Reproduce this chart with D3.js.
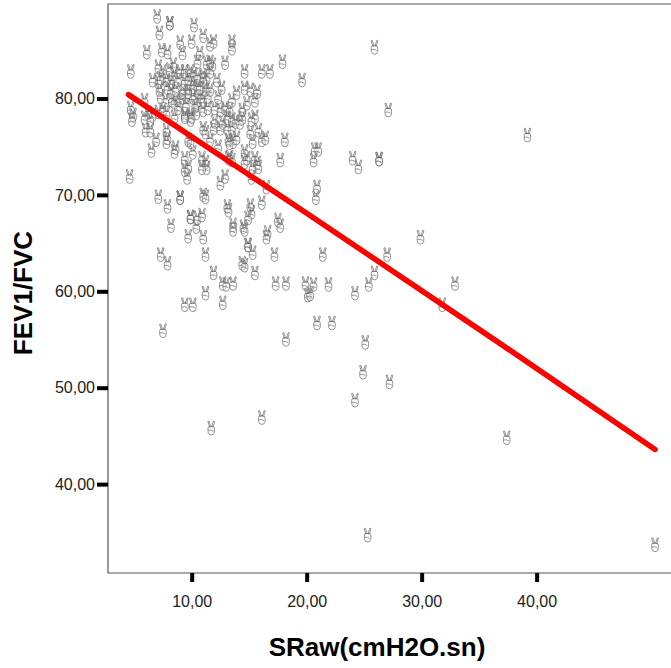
<!DOCTYPE html>
<html>
<head>
<meta charset="utf-8">
<script src="https://cdnjs.cloudflare.com/ajax/libs/d3/7.8.5/d3.min.js"></script>
<style>
  body { margin: 0; background: #fff; }
  text { font-family: "Liberation Sans", Arial, sans-serif; }
</style>
</head>
<body>
<svg id="chart"></svg>
<script>
// SRaw values, grouped by area of the plot
var srawCluster = [7.0, 8.1, 8.1, 10.2, 7.2, 11.0, 9.0, 10.0,
  6.1, 7.4, 7.9, 9.2, 10.7, 10.5, 11.3, 8.4,
  4.7, 7.1, 7.5, 8.1, 8.5, 9.0, 9.4, 9.9,
  10.2, 10.5, 11.0, 11.3, 6.6, 7.1, 7.3, 7.8,
  8.2, 8.8, 9.4, 9.9, 10.1, 10.5, 11.0, 7.9,
  7.7, 8.3, 7.3, 8.5, 9.0, 9.2, 9.7, 10.1,
  10.5, 10.8, 11.0, 4.7, 4.9, 6.2, 6.6, 7.1,
  7.5, 7.8, 8.5, 9.4, 9.9, 10.4, 11.0, 11.4,
  11.4, 11.2, 8.2, 8.6, 9.2, 9.7, 7.2, 5.9,
  9.5, 10.3, 8.8, 10.7, 9.7];
var fevCluster = [88.5, 87.8, 87.8, 87.6, 86.8, 86.5, 85.8, 85.9,
  84.8, 85.0, 84.8, 84.7, 84.7, 83.8, 83.7, 83.5,
  82.8, 83.3, 82.8, 83.0, 82.5, 82.8, 82.8, 82.8,
  82.5, 82.2, 82.4, 82.1, 81.9, 81.7, 82.1, 81.9,
  81.7, 81.9, 81.7, 81.6, 81.2, 81.1, 81.9, 81.1,
  79.8, 79.8, 80.2, 79.6, 79.8, 80.1, 80.2, 80.1,
  79.8, 80.2, 79.8, 79.0, 78.3, 78.5, 78.3, 78.6,
  78.8, 78.5, 78.1, 78.3, 78.3, 78.5, 78.8, 79.0,
  80.2, 80.9, 80.7, 80.9, 80.7, 80.7, 80.9, 79.8,
  79.3, 79.2, 79.0, 81.1, 82.1];

var srawUpperRight = [11.9, 11.6, 13.5, 13.5, 11.6, 11.8, 12.9, 17.9,
  14.6, 16.1, 16.8, 19.6, 11.6, 12.2, 14.6, 15.1,
  15.7, 15.5, 11.6, 13.5, 12.0, 12.5, 12.9, 13.3,
  14.4, 15.5, 12.6, 13.9, 14.8, 12.3];
var fevUpperRight = [85.9, 85.6, 85.9, 85.2, 83.8, 83.5, 83.7, 83.8,
  82.8, 82.8, 82.8, 81.9, 82.8, 81.9, 81.1, 80.9,
  80.7, 79.8, 80.9, 79.8, 79.0, 78.8, 79.0, 78.8,
  78.8, 78.1, 81.1, 80.6, 79.5, 80.1];

var srawMidLeft = [4.8, 5.9, 6.4, 6.0, 6.4, 6.9, 6.5, 7.8,
  7.9, 7.8, 8.6, 8.5, 9.4, 9.9, 10.0, 9.7,
  9.9, 9.4, 10.1, 9.7, 9.4, 9.6, 4.6, 7.1,
  7.9, 9.0, 9.0, 9.9, 9.9, 8.2, 9.7, 10.4,
  10.5];
var fevMidLeft = [77.8, 78.0, 77.8, 76.7, 76.7, 75.7, 74.6, 76.7,
  75.9, 75.5, 74.9, 74.5, 78.1, 77.8, 78.1, 75.7,
  75.5, 73.8, 74.4, 72.9, 72.6, 71.8, 71.9, 69.8,
  68.8, 69.7, 69.7, 67.7, 67.7, 66.8, 65.7, 66.7,
  67.6];

var srawMidRight = [11.0, 11.9, 12.0, 12.5, 12.7, 13.1, 13.5, 13.1,
  13.5, 13.8, 14.4, 14.2, 15.2, 15.1, 15.8, 15.3,
  16.1, 16.4, 13.2, 13.6, 13.9, 13.3, 11.6, 12.3,
  18.1, 14.6, 14.8, 14.6, 15.5, 15.7, 15.8, 15.3,
  17.7, 10.9, 11.2, 11.3, 10.9, 13.3, 12.9, 12.5,
  15.2, 16.5, 11.0, 11.2, 13.1, 13.2, 15.1, 15.2,
  14.9, 16.1, 10.9, 13.6, 14.5, 17.5, 17.7, 16.6,
  11.2, 13.2, 13.5];
var fevMidRight = [76.9, 76.9, 77.6, 76.9, 77.5, 76.9, 76.9, 78.0,
  77.8, 77.6, 78.0, 77.5, 77.8, 76.5, 76.7, 75.5,
  75.7, 75.9, 75.7, 75.5, 75.9, 75.4, 75.7, 75.0,
  75.7, 74.5, 73.8, 73.4, 73.8, 73.3, 72.9, 72.8,
  73.6, 73.8, 73.4, 72.8, 72.8, 73.9, 71.9, 71.2,
  71.8, 70.8, 70.0, 69.8, 68.8, 68.4, 68.9, 68.2,
  67.6, 69.2, 67.9, 66.9, 66.7, 67.4, 66.8, 66.1,
  76.5, 73.8, 73.6];

var srawLow = [11.0, 13.6, 14.6, 14.9, 14.9, 15.3, 7.3, 7.9,
  11.2, 14.4, 14.6, 17.2, 11.9, 15.5, 12.7, 13.0,
  13.6, 17.3, 18.2, 19.9, 20.1, 11.2, 9.4, 10.1,
  12.7, 7.5, 18.2, 16.1, 11.7, 16.5];
var fevLow = [65.6, 66.4, 66.4, 64.8, 64.8, 64.0, 63.8, 62.9,
  63.8, 62.9, 62.7, 63.8, 61.9, 61.9, 60.8, 60.7,
  60.8, 60.8, 60.8, 60.8, 59.6, 59.8, 58.6, 58.6,
  58.8, 55.9, 55.0, 46.9, 45.8, 65.6];

var srawFar = [25.9, 27.1, 39.2, 20.7, 21.0, 20.6, 24.0, 24.5,
  26.3, 26.3, 20.9, 20.8, 21.4, 29.9, 27.0, 25.9,
  25.4, 32.9, 20.6, 21.9, 20.3, 24.2, 31.8, 20.9,
  22.2, 25.1, 24.9, 27.2, 24.2, 37.4, 25.3, 50.3];
var fevFar = [85.3, 78.8, 76.2, 74.7, 74.7, 73.6, 73.8, 72.9,
  73.7, 73.7, 70.8, 69.7, 63.8, 65.6, 63.8, 61.9,
  60.7, 60.8, 60.7, 60.7, 59.7, 59.8, 58.6, 56.7,
  56.7, 54.7, 51.6, 50.6, 48.7, 44.8, 34.7, 33.7];

// fit line, read at a few places along the red curve
var fitSraw = [4.5, 20.0, 36.8, 50.3];
var fitFev = [80.4, 68.1, 54.6, 43.6];

var xTicks = [10, 20, 30, 40];
var yTicks = [40, 50, 60, 70, 80];

var width = 671, height = 668;
var plot = {left: 108, right: 680, top: 4, bottom: 573};

var sraw = [].concat(srawCluster, srawUpperRight, srawMidLeft, srawMidRight, srawLow, srawFar);
var fev = [].concat(fevCluster, fevUpperRight, fevMidLeft, fevMidRight, fevLow, fevFar);
var points = sraw.map((d, i) => ({x: d, y: fev[i]}));
var fit = fitSraw.map((d, i) => ({x: d, y: fitFev[i]}));

var svg = d3.select("#chart")
    .attr("width", width)
    .attr("height", height);

var x = d3.scaleLinear()
    .domain([2.72, 52.47])
    .range([plot.left, plot.right]);

var y = d3.scaleLinear()
    .domain([30.78, 89.8])
    .range([plot.bottom, plot.top]);

// comma as decimal mark
var fmt = d3.formatLocale({decimal: ",", thousands: ".", grouping: [3], currency: ["", ""]}).format(".2f");

// SPSS "victory hand" marker, drawn as a custom d3 symbol (no font has the glyph here)
var victoryHand = {
  draw: function(ctx) {
    // left finger
    ctx.moveTo(-3.4, -6.6);
    ctx.lineTo(-2.2, -7);
    ctx.lineTo(-0.5, -1.6);
    ctx.lineTo(-1.7, -1.2);
    ctx.closePath();
    // right finger
    ctx.moveTo(3.4, -6.6);
    ctx.lineTo(2.2, -7);
    ctx.lineTo(0.5, -1.6);
    ctx.lineTo(1.7, -1.2);
    ctx.closePath();
    // fist
    ctx.moveTo(-3.3, 0);
    ctx.quadraticCurveTo(-3.4, -1.6, -1.8, -1.6);
    ctx.lineTo(1.8, -1.6);
    ctx.quadraticCurveTo(3.5, -1.6, 3.3, 1);
    ctx.lineTo(3.2, 4);
    ctx.quadraticCurveTo(2.8, 6.8, 0, 6.8);
    ctx.quadraticCurveTo(-2.8, 6.8, -3.2, 4);
    ctx.closePath();
    // thumb
    ctx.moveTo(-3.1, 2.2);
    ctx.quadraticCurveTo(-0.5, 1.2, 2.2, 3.2);
  }
};

// markers
svg.append("g")
    .selectAll("path")
    .data(points)
  .enter()
  .append("path")
    .attr("transform", d => `translate(${x(d.x)},${y(d.y)})`)
    .attr("d", d3.symbol(victoryHand))
    .attr("fill", "#fff")
    .attr("fill-opacity", 0.35)
    .attr("stroke", "#5a5a5a")
    .attr("stroke-opacity", 0.8)
    .attr("stroke-width", 0.8);

// frame
svg.append("path")
    .attr("d", `M${plot.right},${plot.top}H${plot.left}V${plot.bottom}H${plot.right}`)
    .attr("fill", "none")
    .attr("stroke", "#555")
    .attr("stroke-width", 1.2);

// fit line
svg.append("path")
    .datum(fit)
    .attr("fill", "none")
    .attr("stroke", "#ff0000")
    .attr("stroke-width", 5.5)
    .attr("stroke-linecap", "round")
    .attr("d", d3.line().x(d => x(d.x)).y(d => y(d.y)));

// axes
var xAxis = svg.append("g")
    .attr("transform", `translate(0,${plot.bottom})`)
    .call(d3.axisBottom(x).tickValues(xTicks).tickSize(9).tickPadding(14).tickFormat(fmt));

var yAxis = svg.append("g")
    .attr("transform", `translate(${plot.left},0)`)
    .call(d3.axisLeft(y).tickValues(yTicks).tickSize(11).tickPadding(2).tickFormat(fmt));

[xAxis, yAxis].forEach(g => {
  g.select(".domain").remove();
  g.selectAll(".tick line").attr("stroke", "#000").attr("stroke-width", 4);
  g.selectAll(".tick text")
      .attr("fill", "#222")
      .style("font-family", "'Liberation Sans', Arial, sans-serif")
      .style("font-size", "16px");
});

// axis titles
svg.append("text")
    .attr("x", 377)
    .attr("y", 656)
    .attr("text-anchor", "middle")
    .style("font-size", "26px")
    .style("font-weight", "bold")
    .text("SRaw(cmH2O.sn)");

svg.append("text")
    .attr("transform", "translate(32,293) rotate(-90)")
    .attr("text-anchor", "middle")
    .style("font-size", "26px")
    .style("font-weight", "bold")
    .text("FEV1/FVC");
</script>
</body>
</html>
